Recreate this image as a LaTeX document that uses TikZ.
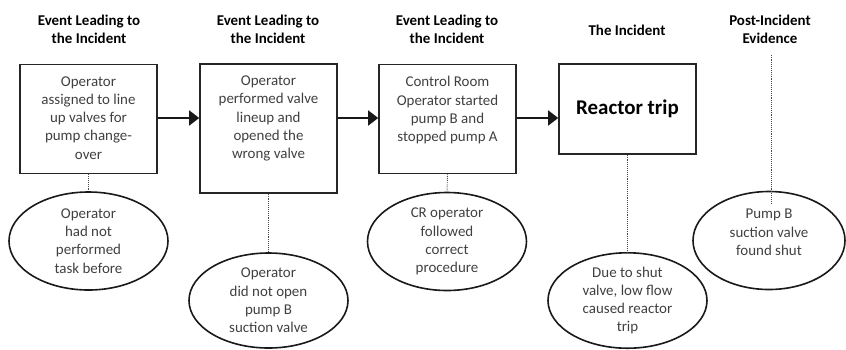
\documentclass[tikz,border=0pt]{standalone}
\usepackage{fontspec}
\setmainfont{Carlito}
\usetikzlibrary{shapes.geometric,arrows.meta}

\newcommand{\boxtext}[2]{\parbox[c][#1][t]{134bp}{\centering\vspace*{12bp}#2}}

\begin{document}
\begin{tikzpicture}[x=1bp,y=-1bp,
  hdr/.style={font=\fontsize{15}{18}\selectfont\bfseries, align=center, text=black},
  evbox/.style={draw=black!85, line width=1.6bp, inner sep=0pt, text=black!75,
    font=\fontsize{15}{18.3}\selectfont, minimum width=137bp},
  oval/.style={ellipse, draw=black!90, line width=1.6bp, inner sep=0pt, text=black!75,
    font=\fontsize{15}{18.3}\selectfont, align=center},
  link/.style={draw=black!90, line width=1.6bp, -{Triangle[length=10bp,width=15bp]}},
  dots/.style={densely dotted, line width=0.9bp, draw=black!70}]
\useasboundingbox (0,0) rectangle (846,349);

% column headings
\node[hdr] (h1) at (89,29) {Event Leading to\\the Incident};
\node[hdr] (h2) at (268,29) {Event Leading to\\the Incident};
\node[hdr] (h3) at (447,29) {Event Leading to\\the Incident};
\node[hdr] (h4) at (627,30) {The Incident};
\node[hdr] (h5) at (770,29) {Post-Incident\\Evidence};

% event boxes
\node[evbox, minimum height=109bp] (b1) at (88.5,119)
  {\boxtext{109bp}{Operator\\assigned to line\\up valves for\\pump change-\\over}};
\node[evbox, minimum height=129bp] (b2) at (268.5,128.5)
  {\boxtext{129bp}{Operator\\performed valve\\lineup and\\opened the\\wrong valve}};
\node[evbox, minimum height=109bp] (b3) at (447.5,119)
  {\boxtext{109bp}{Control Room\\Operator started\\pump B and\\stopped pump A}};
\node[evbox, minimum height=90bp, font=\fontsize{21}{24}\selectfont\bfseries, text=black] (b4) at (627.5,109)
  {Reactor trip};

% causal chain
\draw[link] (b1.east |- 0,118) -- (b2.west |- 0,118);
\draw[link] (b2.east |- 0,118) -- (b3.west |- 0,118);
\draw[link] (b3.east |- 0,118) -- (b4.west |- 0,118);

% supporting statements
\node[oval, minimum width=159bp, minimum height=98bp] (e1) at (88.5,241)
  {Operator\\had not\\performed\\task before};
\node[oval, minimum width=159bp, minimum height=95bp] (e2) at (268.5,300.5)
  {Operator\\did not open\\pump B\\suction valve};
\node[oval, minimum width=159bp, minimum height=98bp] (e3) at (447,241.5)
  {CR operator\\followed\\correct\\procedure};
\node[oval, minimum width=159bp, minimum height=95bp] (e4) at (627.5,300.5)
  {Due to shut\\valve, low flow\\caused reactor\\trip};
\node[oval, minimum width=152bp, minimum height=98bp] (e5) at (769,240.5)
  {\raisebox{7bp}[\height][\depth]{\begin{tabular}{@{}c@{}}Pump B\\suction valve\\found shut\end{tabular}}};

\coordinate (e5in) at (771,203);

% dotted links
\draw[dots] (b1.south) -- (e1.north);
\draw[dots] (b2.south) -- (e2.north);
\draw[dots] (b3.south) -- (e3.north);
\draw[dots] (b4.south) -- (e4.north);
\draw[dots] (h5.south -| e5in) ++(0,8) -- (e5in);
\end{tikzpicture}
\end{document}
